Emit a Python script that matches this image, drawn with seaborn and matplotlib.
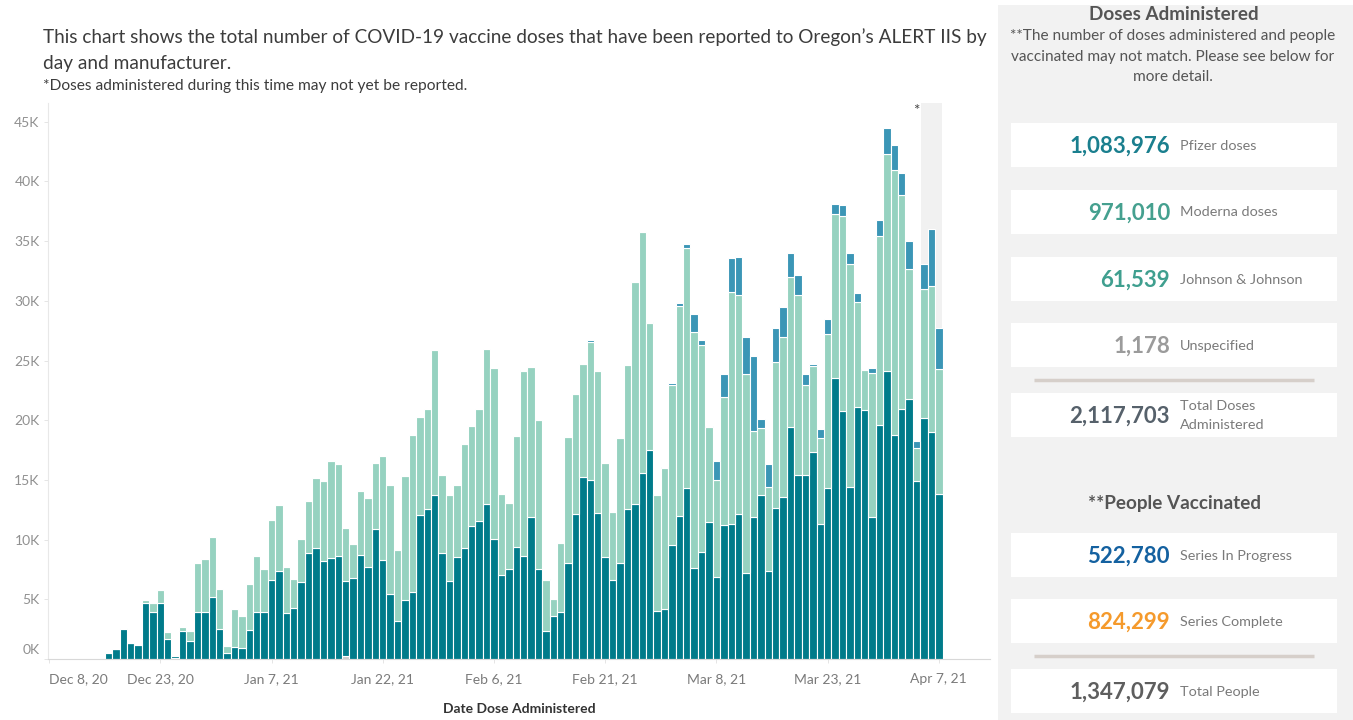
import numpy as np
import pandas as pd
import matplotlib
matplotlib.use("Agg")
import matplotlib.pyplot as plt
import matplotlib.transforms as mtrans
from matplotlib.patches import Rectangle
import seaborn as sns

# ---------------- data (thousands of doses per day) ----------------
start_date = "2020-12-16"

pfizer_k = [
    0.50, 0.81, 2.50, 1.30, 1.20, 4.70, 3.94, 4.70, 1.68, 0.23,
    2.35, 1.48, 3.94, 3.94, 5.17, 2.50, 0.53, 1.03, 0.90, 2.43,
    3.91, 3.91, 6.65, 7.35, 3.85, 4.30, 6.48, 8.85, 9.30, 8.18,
    8.46, 8.66, 6.34, 6.76, 8.74, 7.71, 10.92, 8.30, 5.42, 3.21,
    4.97, 5.59, 12.04, 12.60, 13.70, 8.91, 6.56, 8.55, 9.27, 11.10,
    11.56, 13.00, 10.06, 7.01, 7.54, 9.39, 8.63, 11.93, 7.54, 2.37,
    3.63, 3.91, 8.02, 12.15, 15.28, 14.97, 12.23, 8.55, 6.65, 8.02,
    12.60, 12.99, 15.59, 17.49, 3.99, 4.22, 9.58, 11.96, 14.33, 7.63,
    8.94, 11.48, 6.87, 11.20, 11.31, 12.15, 7.23, 11.87, 13.77, 7.35,
    12.63, 13.58, 19.44, 15.45, 15.45, 17.35, 11.31, 14.33, 23.54, 20.76,
    14.42, 21.13, 20.88, 11.92, 19.60, 24.09, 18.75, 20.95, 21.77, 14.88,
    20.18, 18.99, 13.84,
]

moderna_k = [
    0.11, 0.03, 0.10, 0.03, 0.02, 0.20, 0.78, 1.08, 0.58, 0.05,
    0.30, 0.87, 4.10, 4.46, 5.03, 3.37, 0.53, 3.13, 2.70, 3.87,
    4.75, 3.63, 5.03, 5.58, 3.86, 2.40, 3.60, 4.35, 5.90, 6.72,
    8.14, 7.64, 4.44, 2.84, 5.31, 5.79, 5.48, 8.70, 9.18, 5.92,
    10.33, 13.21, 8.26, 8.38, 12.20, 6.49, 7.14, 6.05, 8.73, 8.45,
    9.42, 12.98, 14.30, 6.79, 5.56, 9.27, 15.50, 12.54, 12.52, 4.28,
    1.43, 5.81, 10.58, 10.05, 9.47, 11.59, 11.87, 7.85, 5.70, 10.48,
    12.06, 18.61, 20.16, 10.64, 9.75, 11.78, 13.41, 17.59, 20.11, 19.74,
    17.34, 7.96, 8.16, 10.73, 19.42, 18.30, 16.68, 7.21, 5.59, 7.04,
    12.23, 13.38, 12.57, 15.00, 7.54, 7.18, 7.21, 12.90, 13.75, 16.31,
    18.69, 8.81, 3.30, 12.01, 15.86, 18.23, 22.20, 17.95, 10.88, 2.80,
    10.77, 12.23, 10.46,
]

jj_k = [
    0, 0, 0, 0, 0, 0, 0, 0, 0, 0,
    0, 0, 0, 0, 0, 0, 0, 0, 0, 0,
    0, 0, 0, 0, 0, 0, 0, 0, 0, 0,
    0, 0, 0, 0, 0, 0, 0, 0, 0, 0,
    0, 0, 0, 0, 0, 0, 0, 0, 0, 0,
    0, 0, 0, 0, 0, 0.06, 0.06, 0, 0, 0.05,
    0, 0, 0, 0, 0, 0.12, 0, 0, 0, 0,
    0, 0, 0, 0.08, 0.06, 0.09, 0.11, 0.23, 0.36, 1.54,
    0.40, 0.11, 1.59, 1.98, 2.85, 3.21, 3.05, 6.34, 0.75, 1.95,
    2.85, 2.54, 1.96, 1.70, 0.92, 0.16, 0.75, 1.22, 0.85, 0.92,
    0.91, 0.70, 0.09, 0.46, 1.34, 2.19, 2.10, 1.77, 2.35, 0.55,
    2.16, 4.76, 3.41,
]

unspec_k = [
    0, 0, 0, 0, 0, 0, 0, 0, 0, 0.05,
    0, 0, 0, 0, 0, 0, 0, 0, 0, 0,
    0, 0, 0, 0, 0, 0, 0, 0, 0, 0,
    0, 0, 0.22, 0, 0, 0, 0, 0, 0, 0,
    0, 0, 0, 0, 0, 0, 0, 0, 0, 0,
    0, 0, 0, 0, 0, 0, 0, 0, 0, 0,
    0, 0, 0, 0, 0, 0, 0, 0, 0, 0,
    0, 0, 0, 0, 0, 0, 0, 0, 0, 0,
    0, 0, 0, 0, 0, 0, 0, 0, 0, 0,
    0, 0, 0, 0, 0, 0, 0, 0, 0, 0,
    0, 0, 0, 0, 0, 0, 0, 0, 0, 0,
    0, 0, 0,
]

tick_dates = ["2020-12-08", "2020-12-23", "2021-01-07", "2021-01-22", "2021-02-06",
              "2021-02-21", "2021-03-08", "2021-03-23", "2021-04-07"]
shade_dates = ["2021-04-05", "2021-04-07"]
ytick_values = [0, 5, 10, 15, 20, 25, 30, 35, 40, 45]

title_lines = [
    "This chart shows the total number of COVID-19 vaccine doses that have been reported to Oregon\u2019s ALERT IIS by",
    "day and manufacturer.",
]
footnote = "*Doses administered during this time may not yet be reported."
x_title = "Date Dose Administered"

dose_labels = ["Pfizer doses", "Moderna doses", "Johnson & Johnson", "Unspecified", "Total Doses\nAdministered"]
dose_values = [1083976, 971010, 61539, 1178, 2117703]
people_labels = ["Series In Progress", "Series Complete", "Total People"]
people_values = [522780, 824299, 1347079]
panel_note = ["**The number of doses administered and people",
              "vaccinated may not match. Please see below for",
              "more detail."]

# ---------------- style ----------------
sns.set_style("white")
plt.rcParams["font.family"] = ["Lato", "DejaVu Sans"]

W, H = 1353, 720
fig = plt.figure(figsize=(W / 100, H / 100), dpi=100)
fig.patch.set_facecolor("white")
ax = fig.add_axes([48 / W, 1 - 659 / H, (990 - 48) / W, (659 - 103) / H])

dates = pd.date_range(start_date, periods=len(pfizer_k))
day = (dates - dates[0]).days
makers = ["Johnson & Johnson", "Moderna", "Pfizer", "Unspecified"]
series = {"Johnson & Johnson": jj_k, "Moderna": moderna_k, "Pfizer": pfizer_k, "Unspecified": unspec_k}
df = pd.concat([pd.DataFrame({"day": day, "maker": m, "doses_k": series[m]}) for m in makers],
               ignore_index=True)
palette = {"Pfizer": "#007b8a", "Moderna": "#96d2c0", "Johnson & Johnson": "#3b96b6",
           "Unspecified": "#c9c9c9"}

# shaded "not yet reported" window
s0 = (pd.Timestamp(shade_dates[0]) - dates[0]).days
s1 = (pd.Timestamp(shade_dates[1]) - dates[0]).days
ax.axvspan(s0 - 0.35, s1 + 0.45, color="#f1f1f1", zorder=0, lw=0)

sns.histplot(data=df, x="day", weights="doses_k", hue="maker", hue_order=makers,
             multiple="stack", discrete=True, palette=palette, alpha=1,
             edgecolor="white", linewidth=0.8, legend=False, ax=ax)

ax.annotate("*", xy=(s0 - 0.35, 1), xycoords=("data", "axes fraction"),
            xytext=(-4, -6), textcoords="offset points", ha="center", va="center",
            fontsize=11, color="#444444")

ax.set_xlim(-8.15, 118.9)
ax.set_ylim(0, 46.57)
ax.set_xlabel("")
ax.set_ylabel("")

ax.set_yticks(ytick_values)
ax.set_yticklabels([f"{v}K" for v in ytick_values])
tick_ts = [pd.Timestamp(t) for t in tick_dates]
ax.set_xticks([(t - dates[0]).days for t in tick_ts])
ax.set_xticklabels([f"{t:%b} {t.day}, {t:%y}" for t in tick_ts])
ax.tick_params(axis="y", length=3, width=0.6, color="#e0e0e0", pad=3, labelsize=10,
               labelcolor="#909090", left=True)
ax.tick_params(axis="x", length=3, width=0.6, color="#e0e0e0", pad=7, labelsize=10,
               labelcolor="#7a7a7a", bottom=True)
ax.get_xticklabels()[0].set_ha("left")
y0lab = ax.get_yticklabels()[0]
y0lab.set_transform(y0lab.get_transform() + mtrans.ScaledTranslation(0, 0.10, fig.dpi_scale_trans))

for side in ["top", "right"]:
    ax.spines[side].set_visible(False)
ax.spines["left"].set_color("#e8e8e8")
ax.spines["left"].set_linewidth(0.8)
ax.spines["bottom"].set_color("#d8d8d8")
ax.spines["bottom"].set_linewidth(0.8)
ax.grid(False)

# ---------------- titles ----------------
fig.text(43 / W, 1 - 37 / H, title_lines[0], fontsize=13.65, color="#3c3c3c", va="center")
fig.text(43 / W, 1 - 63 / H, title_lines[1], fontsize=13.65, color="#3c3c3c", va="center")
fig.text(43 / W, 1 - 86 / H, footnote, fontsize=11.2, color="#3c3c3c", va="center")
fig.text(519 / W, 1 - 709 / H, x_title, fontsize=10, fontweight="bold", color="#333333",
         ha="center", va="center")

# ---------------- right panel ----------------
pax = fig.add_axes([998 / W, 0, (W - 998) / W, 1])
pax.set_xlim(998, W)
pax.set_ylim(H, 0)
pax.axis("off")
pax.add_patch(Rectangle((998, 5), W - 998, H - 5, color="#f2f2f2", lw=0))

pax.text(1174, 14, "Doses Administered", fontsize=13.6, fontweight="bold", color="#555555",
         ha="center", va="center")
for i, line in enumerate(panel_note):
    pax.text(1173, 36 + 20.5 * i, line, fontsize=11.1, color="#555555", ha="center", va="center")
pax.text(1174, 504, "**People Vaccinated", fontsize=13.6, fontweight="bold", color="#555555",
         ha="center", va="center")

dose_tops = [123, 190, 257, 323, 393]
people_tops = [533, 599, 669]
dose_colors = ["#1a7f8e", "#45a08f", "#3f9f8f", "#9b9b9b", "#56616b"]
people_colors = ["#1461a0", "#f59a2c", "#5e5e5e"]

def card(top, value, label, color):
    pax.add_patch(Rectangle((1011, top), 326, 44, color="white", lw=0))
    pax.text(1170, top + 23, f"{value:,}", fontsize=16, fontweight="bold", color=color,
             ha="right", va="center")
    pax.text(1180, top + 22.5, label, fontsize=10.4, color="#7a7a7a", ha="left", va="center",
             linespacing=1.75)

for t, v, l, c in zip(dose_tops, dose_values, dose_labels, dose_colors):
    card(t, v, l, c)
for t, v, l, c in zip(people_tops, people_values, people_labels, people_colors):
    card(t, v, l, c)

pax.plot([1034, 1314], [380, 380], color="#d6cfca", lw=2.5, solid_capstyle="butt")
pax.plot([1034, 1314], [656, 656], color="#d6cfca", lw=2.5, solid_capstyle="butt")

fig.savefig("out.png", dpi=100)
